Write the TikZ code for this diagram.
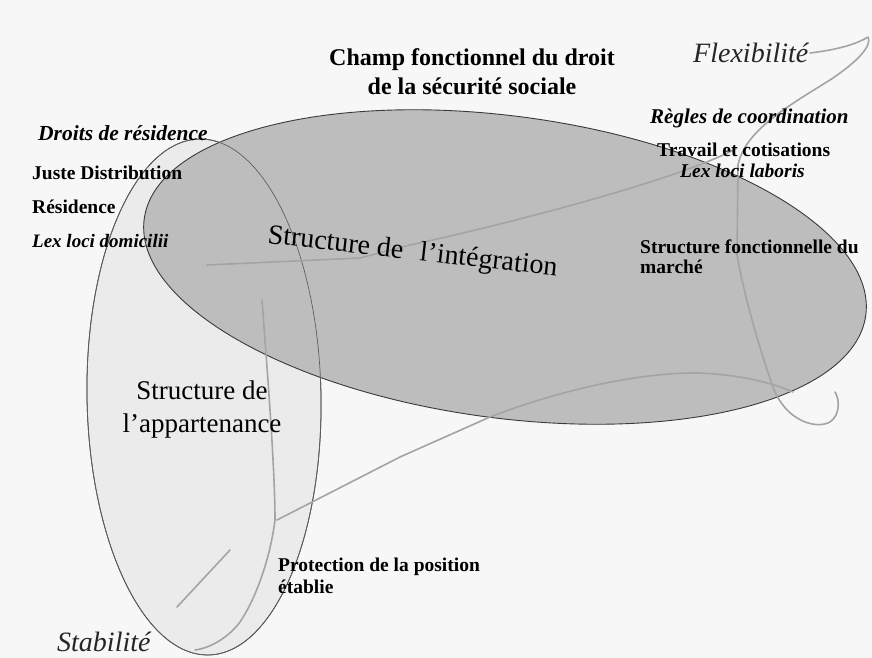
\documentclass[tikz,border=0pt]{standalone}
\usepackage{fontspec}
\setmainfont{Liberation Serif}
\definecolor{bigfill}{HTML}{BDBDBD}
\definecolor{smallfill}{HTML}{EBEBEB}
\definecolor{edge}{HTML}{3A3A3A}
\definecolor{faint}{HTML}{A4A4A4}
\newcommand\fsz[1]{\fontsize{#1}{#1}\selectfont}
\tikzset{
  lbl/.style={anchor=base west, inner sep=0pt, text=black},
  ctr/.style={anchor=base, inner sep=0pt, text=black},
  sketchline/.style={draw=faint, line width=1.6pt, line cap=round, line join=round},
}
\begin{document}
\begin{tikzpicture}[x=1pt,y=-1pt]
\useasboundingbox (0,0) rectangle (872,658);
\fill[white!97!black] (0,0) rectangle (872,658);
\begin{scope}
\clip (0,0) rectangle (872,658);
% small (appartenance) ellipse
\filldraw[fill=smallfill, draw=edge, line width=0.8pt, rotate around={1:(204,397)}] (204,397) ellipse [x radius=117, y radius=258];
% big (integration) ellipse
\filldraw[fill=bigfill, draw=edge, line width=0.9pt, rotate around={-7.6:(505,267)}] (505,267) ellipse [x radius=364, y radius=151];
% small ellipse outline seen through
\draw[draw=gray!75!black, line width=0.7pt, rotate around={1:(204,397)}] (204,397) ellipse [x radius=117, y radius=258];
% faint sketched lines
\draw[sketchline] (207,265) -- (360,258) -- (410,245) .. controls (480,230) and (600,200) .. (680,172) .. controls (705,163) and (725,155) .. (737,148);
\draw[sketchline] (810,53) .. controls (835,50) and (855,45) .. (868,37) .. controls (872,45) and (860,60) .. (830,80) .. controls (790,105) and (745,130) .. (738,165) -- (737,255) .. controls (745,300) and (760,350) .. (773,387) .. controls (785,420) and (815,430) .. (830,422) .. controls (840,415) and (840,400) .. (835,392);
\draw[sketchline] (277,520) -- (400,457) -- (490,417) .. controls (560,390) and (640,372) .. (700,373) .. controls (740,375) and (770,382) .. (793,392);
\draw[sketchline] (262,300) .. controls (268,380) and (275,470) .. (275,520) .. controls (270,560) and (255,600) .. (240,622) .. controls (228,638) and (210,648) .. (195,650);
\draw[sketchline] (230,550) -- (177,607);
\end{scope}
% title
\node[ctr] (t1) at (472,66) {\fsz{24}\bfseries Champ fonctionnel du droit};
\node[ctr] (t2) at (472,95) {\fsz{24}\bfseries de la sécurité sociale};
% corner words
\node[lbl, text=black!85] (flex) at (693,63) {\fsz{28}\itshape Flexibilité};
\node[lbl, text=black!85] (stab) at (57,651) {\fsz{28}\itshape Stabilité};
% left labels
\node[lbl] (dr) at (38,140) {\fsz{21.5}\bfseries\itshape Droits de résidence};
\node[lbl] (jd) at (32,179) {\fsz{19.5}\bfseries Juste Distribution};
\node[lbl] (res) at (32,213) {\fsz{19.5}\bfseries Résidence};
\node[lbl] (lld) at (32,247) {\fsz{19}\bfseries\itshape Lex loci domicilii};
% right labels
\node[lbl] (rc) at (650,124) {\fsz{21}\bfseries\itshape Règles de coordination};
\node[lbl] (tc) at (657,157) {\fsz{19.5}\bfseries Travail et cotisations};
\node[lbl] (llb) at (680,177) {\fsz{19.5}\bfseries\itshape Lex loci laboris};
\node[lbl] (sf1) at (640,253) {\fsz{19.5}\bfseries Structure fonctionnelle du};
\node[lbl] (sf2) at (640,273) {\fsz{19.5}\bfseries marché};
% bottom label
\node[lbl] (pp1) at (278,571) {\fsz{19.5}\bfseries Protection de la position};
\node[lbl] (pp2) at (278,593) {\fsz{19.5}\bfseries établie};
% structure names
\node[lbl, rotate=-6.5] (si) at (267,243) {\fsz{28}Structure de\hspace{0.6em}l'intégration};
\node[ctr] (sa1) at (202,399) {\fsz{27}Structure de};
\node[ctr] (sa2) at (202,432) {\fsz{27}l'appartenance};
\end{tikzpicture}
\end{document}
